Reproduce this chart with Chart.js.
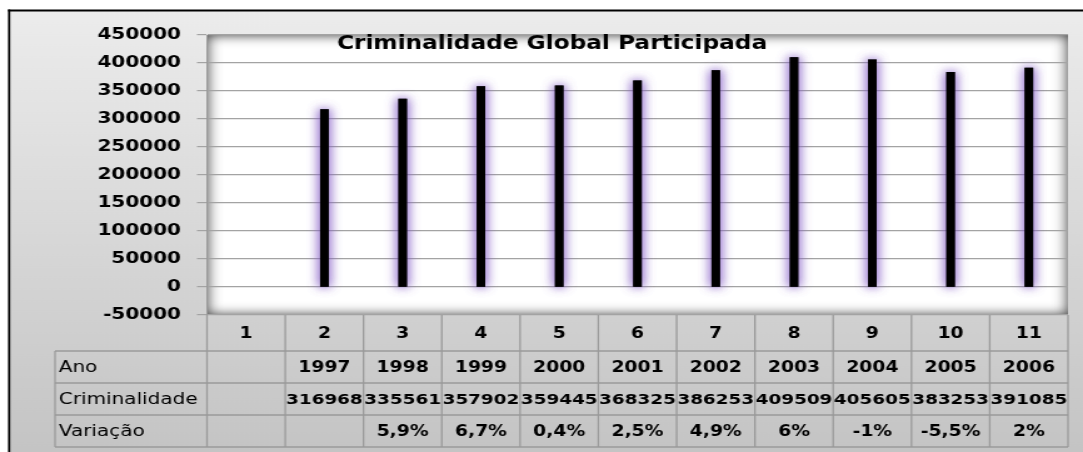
<!DOCTYPE html>
<html>
<head>
<meta charset="utf-8">
<script src="https://cdn.jsdelivr.net/npm/chart.js@4.4.1/dist/chart.umd.min.js"></script>
<style>
  html, body { margin: 0; padding: 0; background: #fff; overflow: hidden; }
  /* the original picture is stretched sideways, so the whole chart is too */
  #wrap { width: 866px; height: 452px; transform: scaleX(1.25058); transform-origin: 0 0; }
</style>
</head>
<body>
<div id="wrap"><canvas id="grafico"></canvas></div>
<script>
const categorias = ['1', '2', '3', '4', '5', '6', '7', '8', '9', '10', '11'];
const anos = ['', '1997', '1998', '1999', '2000', '2001', '2002', '2003', '2004', '2005', '2006'];
const criminalidade = [null, 316968, 335561, 357902, 359445, 368325, 386253, 409509, 405605, 383253, 391085];
const variacao = ['', '', '5,9%', '6,7%', '0,4%', '2,5%', '4,9%', '6%', '-1%', '-5,5%', '2%'];
const linhasTabela = ['Ano', 'Criminalidade', 'Variação'];
const yMin = -50000, yMax = 450000, yPasso = 50000;

const FONTE = "'DejaVu Sans', Verdana, sans-serif";

// fundo cinzento, moldura preta e area do grafico branca com sombra interior
const fundo = {
  id: 'fundo',
  beforeDraw(chart) {
    const { ctx, width, height, chartArea: a } = chart;
    ctx.save();
    const g = ctx.createLinearGradient(0, 10, 0, height);
    g.addColorStop(0, '#ececec');
    g.addColorStop(1, '#c4c4c4');
    ctx.fillStyle = g;
    ctx.fillRect(7, 10, width, height);
    ctx.fillStyle = '#000';
    ctx.fillRect(6.4, 9.5, width, 2);
    ctx.fillRect(6.4, 9.5, 1.8, height);

    ctx.fillStyle = '#fff';
    ctx.fillRect(a.left, a.top, a.width, a.height);
    ctx.beginPath();
    ctx.rect(a.left, a.top, a.width, a.height);
    ctx.clip();
    ctx.shadowColor = 'rgba(0,0,0,0.8)';
    ctx.shadowBlur = 12;
    ctx.beginPath();
    ctx.rect(a.left - 60, a.top - 60, a.width + 120, a.height + 120);
    ctx.rect(a.left, a.top, a.width, a.height);
    ctx.fillStyle = '#8a8a8a';
    ctx.fill('evenodd');
    ctx.restore();
  }
};

// brilho lilas a volta das barras (desenhado duas vezes para ficar mais forte)
const brilho = {
  id: 'brilho',
  beforeDatasetDraw(chart) {
    const ctx = chart.ctx;
    ctx.save();
    ctx.shadowColor = 'rgba(135, 95, 200, 0.8)';
    ctx.shadowBlur = 10;
  },
  afterDatasetDraw(chart, args) {
    const ctx = chart.ctx;
    args.meta.data.forEach((el, i) => {
      if (criminalidade[i] != null) el.draw(ctx);
    });
    ctx.restore();
  }
};

// titulo
const titulo = {
  id: 'titulo',
  afterDatasetsDraw(chart) {
    const ctx = chart.ctx;
    ctx.save();
    ctx.font = 'bold 18.6px ' + FONTE;
    ctx.fillStyle = '#000';
    ctx.textAlign = 'center';
    ctx.textBaseline = 'middle';
    ctx.fillText('Criminalidade Global Participada', 441.4, 44);
    ctx.restore();
  }
};

// tabela de dados por baixo do eixo
const tabela = {
  id: 'tabela',
  afterDraw(chart) {
    const { ctx, chartArea: a, scales: { x } } = chart;
    const larg = a.width / categorias.length;
    const esq = 44;
    const yLin = [a.bottom, 351, 383, 415, 447];
    ctx.save();
    ctx.strokeStyle = '#9a9a9a';
    ctx.lineWidth = 1.3;
    ctx.beginPath();
    for (let j = 1; j < yLin.length; j++) {
      ctx.moveTo(esq, yLin[j]);
      ctx.lineTo(a.right, yLin[j]);
    }
    for (let i = 0; i <= categorias.length; i++) {
      const px = i < categorias.length ? x.getPixelForValue(i) - larg / 2 : x.getPixelForValue(i - 1) + larg / 2;
      ctx.moveTo(px, yLin[0]);
      ctx.lineTo(px, yLin[4]);
    }
    ctx.moveTo(esq, yLin[1]);
    ctx.lineTo(esq, yLin[4]);
    ctx.stroke();

    ctx.fillStyle = '#000';
    ctx.textBaseline = 'middle';
    ctx.textAlign = 'left';
    ctx.font = '16px ' + FONTE;
    linhasTabela.forEach((t, j) => ctx.fillText(t, esq + 3, (yLin[j + 1] + yLin[j + 2]) / 2 + 1));

    ctx.textAlign = 'center';
    ctx.font = 'bold 15px ' + FONTE;
    categorias.forEach((c, i) => {
      const cx = x.getPixelForValue(i);
      ctx.fillText(c, cx, (yLin[0] + yLin[1]) / 2 + 1);
      ctx.fillText(anos[i], cx, (yLin[1] + yLin[2]) / 2 + 1);
      ctx.fillText(variacao[i], cx, (yLin[3] + yLin[4]) / 2 + 1);
    });
    ctx.font = 'bold 14.7px ' + FONTE;
    categorias.forEach((c, i) => {
      const cx = x.getPixelForValue(i);
      ctx.fillText(criminalidade[i] == null ? '' : String(criminalidade[i]), cx, (yLin[2] + yLin[3]) / 2 + 1);
    });
    ctx.restore();
  }
};

new Chart(document.getElementById('grafico'), {
  type: 'bar',
  data: {
    labels: categorias,
    datasets: [{
      label: 'Criminalidade',
      data: criminalidade,
      backgroundColor: '#000',
      barThickness: 6.2
    }]
  },
  options: {
    responsive: true,
    maintainAspectRatio: false,
    animation: false,
    layout: { padding: { left: 0, right: 12, top: 35, bottom: 137 } },
    plugins: { legend: { display: false }, tooltip: { enabled: false } },
    scales: {
      x: { display: false },
      y: {
        min: yMin,
        max: yMax,
        ticks: {
          stepSize: yPasso,
          color: '#000',
          padding: 12.8,
          font: { family: FONTE, size: 16, weight: 'bold' },
          callback: v => String(v)
        },
        grid: { color: '#a3a3a3', lineWidth: 1.2, tickLength: 8, tickColor: '#a3a3a3' },
        border: { display: true, color: '#999', width: 1 },
        afterFit(s) { s.width = 165.5; }
      }
    }
  },
  plugins: [fundo, brilho, titulo, tabela]
});
</script>
</body>
</html>
